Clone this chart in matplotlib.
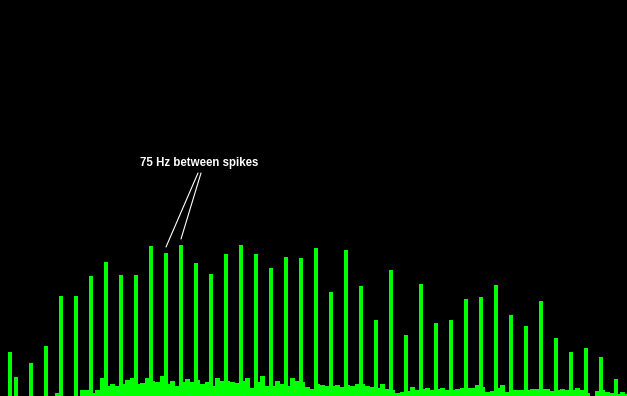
import numpy as np
import matplotlib
matplotlib.use("Agg")
import matplotlib.pyplot as plt

# Harmonic spikes (Hz) and their peak levels
spike_hz = [45, 75, 150, 225, 300, 375, 450, 525, 600, 675, 750, 825, 900, 975,
            1050, 1125, 1200, 1275, 1350, 1425, 1500, 1575, 1650, 1725, 1800,
            1875, 1950, 2025, 2100, 2175, 2250, 2325, 2400, 2475, 2550, 2625,
            2700, 2775, 2850, 2925, 3000, 3075]
spike_level = [44, 19, 33, 50, 100, 100, 120, 134, 121, 121, 150, 143, 151, 133,
               122, 142, 151, 142, 128, 139, 138, 148, 104, 146, 110,
               76, 126, 61, 112, 73, 76, 97, 99, 111, 81, 70,
               95, 58, 44, 48, 39, 17]

# Noise floor, 25 Hz bins starting at -5 Hz
noise_level = [0, 0, 0, 0, 0, 0, 0, 0, 0, 0, 0, 3, 0, 0, 0, 0, 6, 6, 3, 6,
               18, 10, 12, 10, 12, 16, 18, 12, 13, 18, 15, 14, 20, 12, 15, 10,
               14, 17, 14, 16, 12, 14, 10, 18, 15, 15, 14, 13, 15, 18, 8, 14,
               20, 10, 10, 15, 12, 10, 18, 15, 14, 9, 7, 12, 11, 10, 10, 11, 9,
               11, 10, 12, 12, 10, 9, 8, 12, 7, 6, 3, 4, 5, 9, 6, 7, 8, 6, 7, 8,
               6, 6, 7, 8, 8, 8, 11, 9, 4, 5, 8, 11, 4, 6, 6, 6, 6, 7, 7, 7, 7,
               5, 6, 7, 6, 6, 8, 6, 3, 0, 5, 6, 4, 3, 2, 4, 2]

annotation_text = "75 Hz between spikes"
annotated_spikes = [825, 900]

GREEN = "#00ff00"
fig = plt.figure(figsize=(6.27, 3.96), dpi=100, facecolor="black")
ax = fig.add_axes([0, 0, 1, 1])
ax.set_facecolor("black")

edges = -5 + 25 * np.arange(len(noise_level) + 1)
ax.stairs(noise_level, edges, fill=True, color=GREEN, linewidth=0,
          antialiased=False)

sh = np.array(spike_hz)
sl = np.array(spike_level)
ax.bar(sh, sl * 0.6, width=24, color=GREEN, linewidth=0, antialiased=False)
ax.bar(sh, sl, width=16, color=GREEN, linewidth=0, antialiased=False)

ax.set_xlim(-5, 3130)
ax.set_ylim(0, 396)
ax.axis("off")

# annotation
text_x, text_y = 990, 233
ax.text(text_x, text_y, annotation_text, color="white", fontsize=8.3,
        fontweight="bold", family=["Liberation Sans", "DejaVu Sans"],
        ha="center", va="center")
starts = [(985, 223), (1000, 223)]
for (sx, sy), f in zip(starts, annotated_spikes):
    lvl = spike_level[spike_hz.index(f)]
    ax.annotate("", xy=(f, lvl + 6), xytext=(sx, sy),
                arrowprops=dict(arrowstyle="-", color="white", lw=0.8,
                                shrinkA=0, shrinkB=0))

fig.savefig("out.png", dpi=100, facecolor="black")
